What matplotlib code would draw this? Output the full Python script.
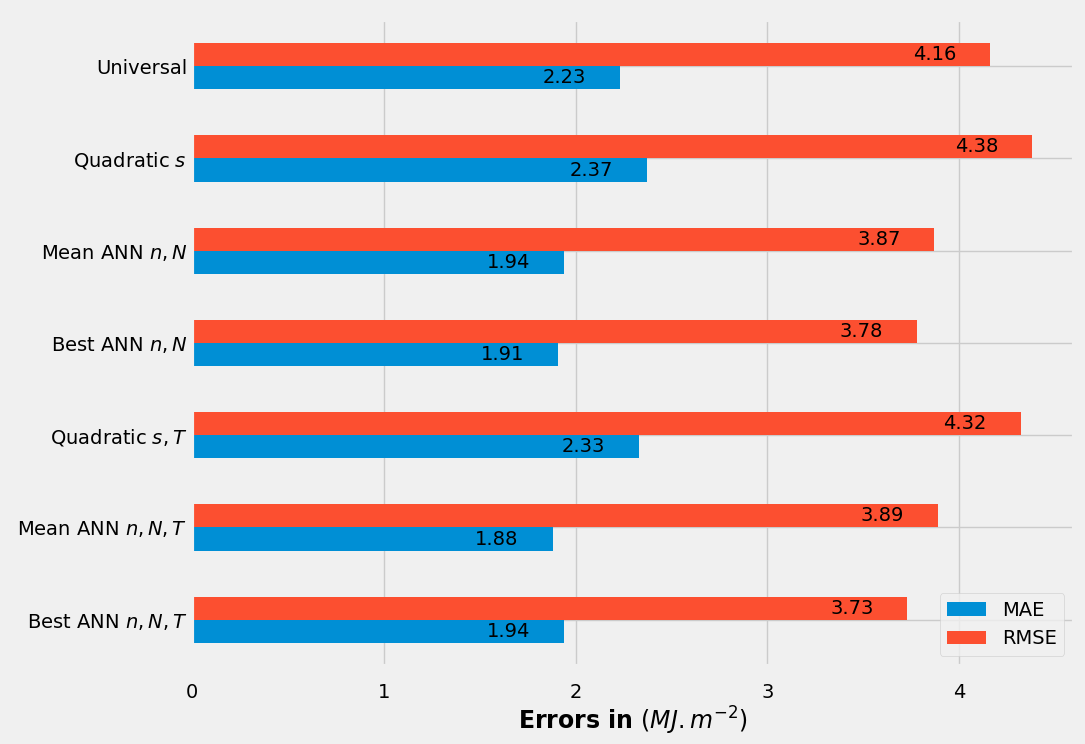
import pandas as pd
import matplotlib.pyplot as plt

plt.style.use("fivethirtyeight")

models = ["Best ANN $n,N,T$", "Mean ANN $n,N,T$", "Quadratic $s,T$",
          "Best ANN $n,N$", "Mean ANN $n,N$", "Quadratic $s$", "Universal"]
mae = [1.94, 1.88, 2.33, 1.91, 1.94, 2.37, 2.23]
rmse = [3.73, 3.89, 4.32, 3.78, 3.87, 4.38, 4.16]

df = pd.DataFrame({"MAE": mae, "RMSE": rmse}, index=models)

fig, ax = plt.subplots(figsize=(10.85, 7.44), dpi=100)
df.plot(kind="barh", ax=ax, width=0.5)

# valeurs sur les barres
for i, (m, r) in enumerate(zip(mae, rmse)):
    ax.text(m - 0.29, i - 0.125, f"{m:.2f}", ha="center", va="center", fontsize=14)
    ax.text(r - 0.29, i + 0.125, f"{r:.2f}", ha="center", va="center", fontsize=14)

ax.set_xlabel(r"Errors in $(MJ.m^{-2})$", fontweight="bold", fontsize=17, labelpad=2)
ax.set_ylabel("")
ax.tick_params(labelsize=14)
ax.tick_params(axis="x", pad=12)
ax.legend(loc="lower right", fontsize=14)

plt.subplots_adjust(left=0.177, right=0.99, top=0.973, bottom=0.105)
plt.savefig("out.png", dpi=100)
